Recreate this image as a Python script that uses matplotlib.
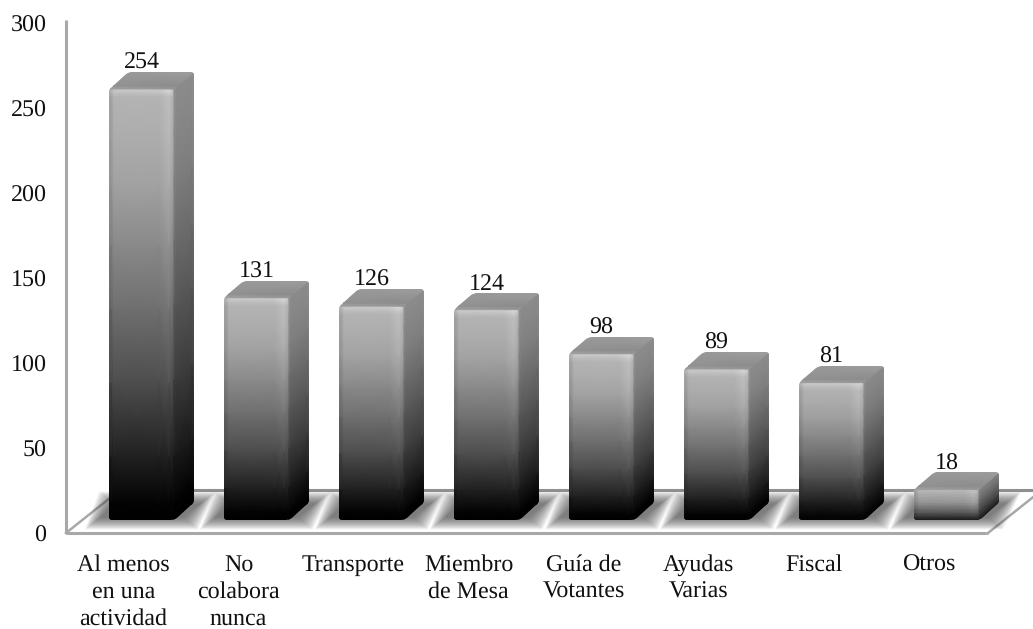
import numpy as np
import matplotlib
matplotlib.use("Agg")
import matplotlib.pyplot as plt
from matplotlib.patches import Polygon
from matplotlib.path import Path
from matplotlib.transforms import Affine2D, IdentityTransform

# ─── DATA ─────────────────────────────────────────────────────────────────────
categories = ["Al menos\nen una\nactividad", "No\ncolabora\nnunca", "Transporte",
              "Miembro\nde Mesa", "Guía de\nVotantes", "Ayudas\nVarias", "Fiscal", "Otros"]
values = [254, 131, 126, 124, 98, 89, 81, 18]
y_ticks = [0, 50, 100, 150, 200, 250, 300]

# ─── LAYOUT (pixels at dpi=100) ───────────────────────────────────────────────
W, H = 1033, 629
AX_L, AX_R, AX_B, AX_T = 66, 986, 533, 20
SHIFT_X, SHIFT_Y = 18, 13      # bars sit this far into the floor
DEPTH_X, DEPTH_Y = 20, 17      # box depth
FLOOR_X, FLOOR_Y = 54, 43      # floor depth
BAR_W = 0.565

plt.rcParams["font.family"] = ["Liberation Serif", "DejaVu Serif"]
plt.rcParams["font.size"] = 17
plt.rcParams["text.hinting"] = "no_hinting"
plt.rcParams["text.hinting_factor"] = 1

fig = plt.figure(figsize=(W / 100, H / 100), dpi=100)
ax = fig.add_axes([AX_L / W, 1 - AX_B / H, (AX_R - AX_L) / W, (AX_B - AX_T) / H])
ax.set_xlim(-0.5, 7.5)
ax.set_ylim(0, (AX_B - AX_T) / 1.697)

px_x = (AX_R - AX_L) / 8
px_y = 1.697
dx, dy = DEPTH_X / px_x, DEPTH_Y / px_y
bar_tf = Affine2D().translate(SHIFT_X, SHIFT_Y)
to_bar = ax.transData + bar_tf

for s in ("top", "right"):
    ax.spines[s].set_visible(False)
for s in ("left", "bottom"):
    ax.spines[s].set_color("#a8a8a8")
    ax.spines[s].set_linewidth(2.2)
    ax.spines[s].set_capstyle("butt")

ax.set_yticks(y_ticks)
ax.set_xticks(range(len(categories)))
ax.set_xticklabels(categories, linespacing=1.32, color="#111111")
ax.tick_params(axis="y", length=0, pad=14, labelcolor="#111111")
ax.tick_params(axis="x", length=0, pad=15)


def rounded_path(points, r=3.5):
    """Closed path through display points, with the corners rounded off."""
    pts = np.asarray(points, dtype=float)
    verts, codes = [], []
    n = len(pts)
    for i in range(n):
        p, prev, nxt = pts[i], pts[i - 1], pts[(i + 1) % n]
        a = p + (prev - p) / np.linalg.norm(prev - p) * r
        b = p + (nxt - p) / np.linalg.norm(nxt - p) * r
        verts += [a, p, b]
        codes += [Path.MOVETO if i == 0 else Path.LINETO, Path.CURVE3, Path.CURVE3]
    verts.append(verts[0])
    codes.append(Path.CLOSEPOLY)
    return Path(verts, codes)


def shadow(x0, x1):
    """Soft floor shadow: stacked parallelograms growing outward."""
    (l, b) = to_bar.transform((x0, 0))
    (r, _) = to_bar.transform((x1, 0))
    for grow in np.linspace(8, -7, 20):
        pts = [(l - 16 - grow, b - 3 - grow * 0.8), (r + 16 + grow, b - 3 - grow * 0.8),
               (r + 34 + grow, b + 22 + grow * 0.8), (l - 2 - grow, b + 22 + grow * 0.8)]
        ax.add_patch(Polygon(pts, closed=True, transform=IdentityTransform(),
                             facecolor="#444444", edgecolor="none", alpha=0.05,
                             clip_on=False, zorder=1))


# height fraction -> share of the top gray, shared by front and side faces
RAMP_V = np.array([0, 0.04, 0.15, 0.325, 0.5, 0.65, 0.79, 0.9, 1.0])
RAMP_G = np.array([0, 0.02, 0.18, 0.43, 0.62, 0.77, 0.90, 0.96, 1.0])


def box(x0, x1, h):
    """One shaded column: front, side and top faces, clipped to a rounded outline."""
    outline = [(x0, 0), (x0, h), (x0 + dx, h + dy), (x1 + dx, h + dy),
               (x1 + dx, dy), (x1, 0)]
    clip = rounded_path(to_bar.transform(outline))
    top_gray = 0.62 + 0.08 * min(h / 90, 1)
    low_gray = 0.14 * (1 - min(h / 90, 1))
    meshes = []

    # front face, darker strip on the left and a light one near the right edge
    w_u = np.array([0, 2, 5, 50, 60, 65]) / 65
    w_g = np.array([0.92, 0.90, 1.0, 1.0, 1.07, 0.97])
    ramp = low_gray + RAMP_G * (top_gray - low_gray)
    v = np.concatenate([RAMP_V * (h - 8 / px_y), [h - 4 / px_y, h - 1.5 / px_y, h]])
    grad = np.concatenate([ramp, [top_gray * 1.07, top_gray * 1.12, top_gray * 1.1]])
    X, Y = np.meshgrid(x0 + (x1 - x0) * w_u, v)
    C = np.clip(np.outer(grad, w_g), 0, 1)
    meshes.append(ax.pcolormesh(X, Y, C, shading="gouraud", cmap="gray", vmin=0, vmax=1,
                                transform=to_bar, zorder=3))

    # side face, skewed back with the depth
    u = np.array([0, 0.12, 0.9, 1.0])
    U, V = np.meshgrid(u, RAMP_V * h)
    X = x1 + U * dx
    Y = V + U * dy
    C = np.outer(low_gray + RAMP_G * (top_gray * 0.78 - low_gray), [1.06, 1.0, 1.0, 1.05])
    meshes.append(ax.pcolormesh(X, Y, np.clip(C, 0, 1), shading="gouraud", cmap="gray",
                                vmin=0, vmax=1, transform=to_bar, zorder=3))

    # top face
    U, W_ = np.meshgrid(np.array([0, 1.0]), np.array([0, 0.2, 1.0]))
    X = x0 + (x1 - x0) * U + W_ * dx
    Y = h + W_ * dy
    C = np.array([[0.64, 0.60], [0.57, 0.55], [0.60, 0.62]])
    meshes.append(ax.pcolormesh(X, Y, C, shading="gouraud", cmap="gray", vmin=0, vmax=1,
                                transform=to_bar, zorder=3))

    for m in meshes:
        m.set_clip_box(None)
        m.set_clip_path(clip, IdentityTransform())


# ─── FLOOR ────────────────────────────────────────────────────────────────────
fx, fy = FLOOR_X / px_x, FLOOR_Y / px_y
x_lo, x_hi = ax.get_xlim()
ax.plot([x_lo + fx, x_hi + 1.0], [fy, fy], color="#8f8f8f", lw=2.2, clip_on=False,
        solid_capstyle="butt", zorder=0)
ax.plot([x_lo, x_lo + fx], [0, fy], color="#a8a8a8", lw=1.8, clip_on=False, zorder=0)
ax.plot([x_hi + 2 / px_x, x_hi + 2 / px_x + fx], [0, fy], color="#a8a8a8", lw=1.8,
        clip_on=False, zorder=0)
ax.plot([x_hi, x_hi + 2 / px_x], [0, 0], color="#a8a8a8", lw=2.2, clip_on=False,
        solid_capstyle="butt", zorder=0)

# ─── BARS ─────────────────────────────────────────────────────────────────────
for i, val in enumerate(values):
    shadow(i - BAR_W / 2, i + BAR_W / 2)
for i, val in enumerate(values):
    box(i - BAR_W / 2, i + BAR_W / 2, val)
    ax.annotate(str(val), (i, val), xytext=(SHIFT_X, SHIFT_Y + 20),
                textcoords="offset pixels", ha="center", va="baseline",
                color="#111111", annotation_clip=False, zorder=5)

fig.savefig("out.png", dpi=100, facecolor="white")
